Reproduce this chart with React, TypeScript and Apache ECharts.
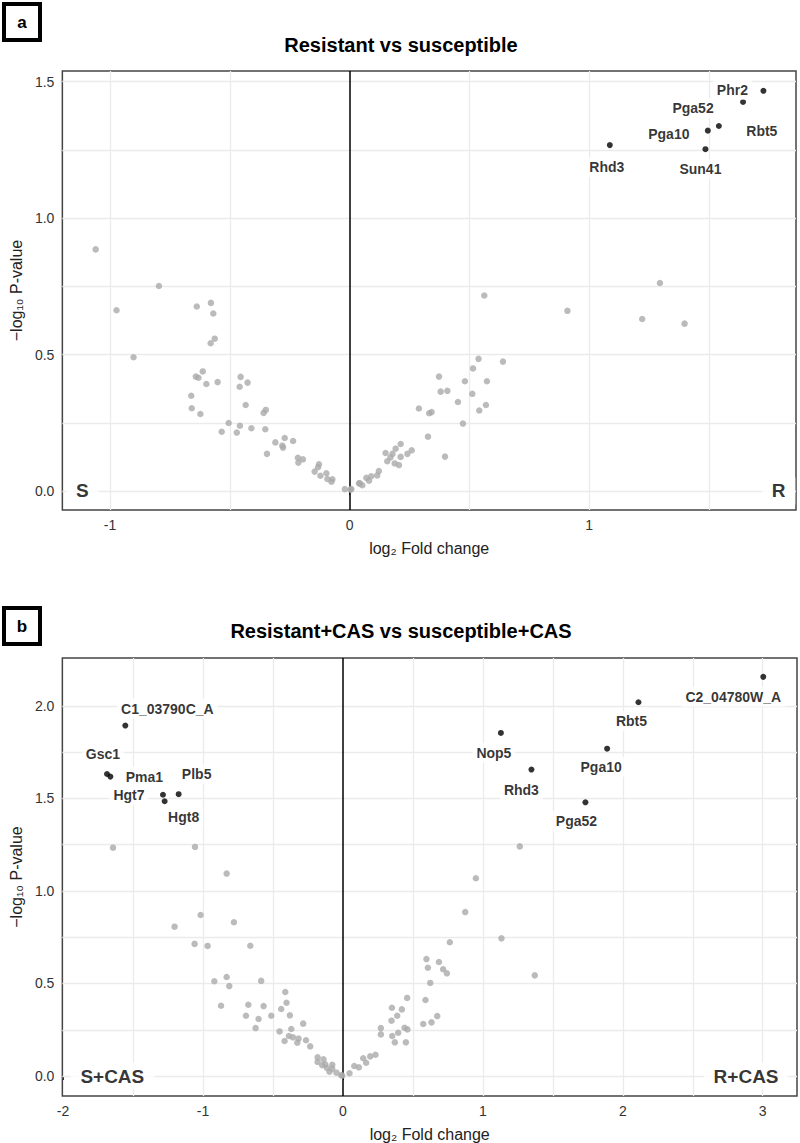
import React, { useEffect, useRef } from "react";
import * as echarts from "echarts";

const FONT = "'Liberation Sans', Arial, Helvetica, sans-serif";

// ---------- Panel a: Resistant vs susceptible ----------
const aTitle = "Resistant vs susceptible";
const aXTicks = [-1, 0, 1];
const aYTicks = [0, 0.5, 1, 1.5];
const aXGrid = [-1, -0.5, 0.5, 1, 1.5];
const aYGrid = [0, 0.25, 0.5, 0.75, 1, 1.25, 1.5];
const aGray: number[][] = [
  [-1.06, 0.885], [-0.796, 0.751], [-0.973, 0.662], [-0.638, 0.676], [-0.579, 0.689], [-0.569, 0.65],
  [-0.563, 0.558], [-0.58, 0.541], [-0.902, 0.49], [-0.613, 0.438], [-0.642, 0.419], [-0.631, 0.415],
  [-0.598, 0.392], [-0.551, 0.399], [-0.455, 0.418], [-0.426, 0.397], [-0.459, 0.382], [-0.661, 0.349],
  [-0.659, 0.303], [-0.623, 0.282], [-0.434, 0.315], [-0.35, 0.297], [-0.359, 0.286], [-0.505, 0.249],
  [-0.534, 0.217], [-0.471, 0.214], [-0.458, 0.239], [-0.41, 0.23], [-0.352, 0.226], [-0.345, 0.136],
  [-0.31, 0.178], [-0.271, 0.194], [-0.281, 0.166], [-0.278, 0.159], [-0.236, 0.183], [-0.216, 0.122],
  [-0.195, 0.116], [-0.214, 0.104], [-0.128, 0.098], [-0.132, 0.087], [-0.146, 0.071], [-0.122, 0.056],
  [-0.097, 0.065], [-0.093, 0.044], [-0.072, 0.043], [-0.076, 0.034], [-0.02, 0.007], [0.004, 0.005],
  [0.039, 0.028],
  [1.295, 0.762], [0.562, 0.716], [0.909, 0.66], [1.221, 0.63], [1.398, 0.613], [0.538, 0.484],
  [0.64, 0.474], [0.515, 0.449], [0.373, 0.419], [0.481, 0.402], [0.573, 0.402], [0.38, 0.364],
  [0.408, 0.367], [0.512, 0.356], [0.452, 0.326], [0.569, 0.315], [0.541, 0.295], [0.289, 0.302],
  [0.332, 0.285], [0.342, 0.289], [0.473, 0.247], [0.327, 0.199], [0.398, 0.126], [0.213, 0.172],
  [0.259, 0.149], [0.241, 0.136], [0.192, 0.155], [0.15, 0.139], [0.179, 0.136], [0.213, 0.125],
  [0.17, 0.123], [0.157, 0.109], [0.188, 0.101], [0.206, 0.095], [0.122, 0.073], [0.115, 0.057],
  [0.09, 0.054], [0.07, 0.048], [0.081, 0.038], [0.043, 0.028], [0.053, 0.021], [0.007, 0.007],
];
const aGenes = ["Phr2", "Pga52", "Rbt5", "Pga10", "Sun41", "Rhd3"];
const aGeneX = [1.727, 1.642, 1.541, 1.495, 1.485, 1.086];
const aGeneY = [1.466, 1.425, 1.337, 1.32, 1.252, 1.267];
const aLabelOffsets = [[-31, -1], [-50, 6], [43, 5], [-39, 3], [-5, 20], [-3, 22]];
const aCorners = ["S", "R"];
const aCornerX = [-1.116, 1.79];

// ---------- Panel b: Resistant+CAS vs susceptible+CAS ----------
const bTitle = "Resistant+CAS vs susceptible+CAS";
const bXTicks = [-2, -1, 0, 1, 2, 3];
const bYTicks = [0, 0.5, 1, 1.5, 2];
const bXGrid = [-1.5, -1, -0.5, 0.5, 1, 1.5, 2, 2.5, 3];
const bYGrid = [0, 0.25, 0.5, 0.75, 1, 1.25, 1.5, 1.75, 2];
const bGray: number[][] = [
  [-1.643, 1.234], [-1.057, 1.238], [-0.831, 1.094], [-1.017, 0.87], [-0.779, 0.831], [-1.203, 0.807],
  [-1.06, 0.714], [-0.967, 0.703], [-0.662, 0.704], [-0.919, 0.512], [-0.831, 0.535], [-0.812, 0.486],
  [-0.584, 0.514], [-0.412, 0.454], [-0.403, 0.396], [-0.441, 0.362], [-0.871, 0.38], [-0.676, 0.385],
  [-0.567, 0.378], [-0.693, 0.326], [-0.603, 0.308], [-0.512, 0.326], [-0.379, 0.328], [-0.624, 0.259],
  [-0.453, 0.241], [-0.369, 0.254], [-0.284, 0.283], [-0.417, 0.189], [-0.386, 0.216], [-0.357, 0.209],
  [-0.326, 0.18], [-0.317, 0.202], [-0.264, 0.193], [-0.234, 0.16], [-0.181, 0.101], [-0.181, 0.076],
  [-0.139, 0.09], [-0.126, 0.063], [-0.148, 0.058], [-0.076, 0.061], [-0.076, 0.039], [-0.114, 0.043],
  [-0.046, 0.018], [-0.012, 0.004], [-0.096, 0.023],
  [1.264, 1.241], [0.95, 1.069], [0.874, 0.886], [1.133, 0.744], [0.764, 0.723], [1.371, 0.544],
  [0.597, 0.632], [0.686, 0.616], [0.607, 0.585], [0.716, 0.577], [0.743, 0.555], [0.624, 0.503],
  [0.459, 0.422], [0.59, 0.411], [0.35, 0.369], [0.421, 0.36], [0.388, 0.326], [0.347, 0.299],
  [0.674, 0.324], [0.633, 0.29], [0.574, 0.281], [0.271, 0.259], [0.271, 0.225], [0.44, 0.261],
  [0.461, 0.252], [0.395, 0.234], [0.352, 0.216], [0.371, 0.182], [0.45, 0.182], [0.233, 0.115],
  [0.195, 0.106], [0.145, 0.096], [0.166, 0.072], [0.081, 0.054], [0.114, 0.047], [0.047, 0.015],
  [-0.005, 0.002],
];
const bGenes = ["C1_03790C_A", "Gsc1", "Pma1", "Plb5", "Hgt7", "Hgt8", "C2_04780W_A", "Rbt5", "Nop5", "Pga10", "Rhd3", "Pga52"];
const bGeneX = [-1.555, -1.686, -1.662, -1.174, -1.286, -1.274, 3.004, 2.112, 1.129, 1.888, 1.347, 1.733];
const bGeneY = [1.894, 1.632, 1.618, 1.523, 1.52, 1.485, 2.157, 2.02, 1.854, 1.769, 1.656, 1.479];
const bLabelOffsets = [[42, -17], [-4, -20], [34, 0], [18, -20], [-34, 0], [19, 16], [-30, 20], [-7, 19], [-7, 20], [-6, 18], [-10, 20], [-9, 19]];
const bCorners = ["S+CAS", "R+CAS"];
const bCornerX = [-1.648, 2.881];

const GRID_COLOR = "#ebebeb";
const TEXT_COLOR = "#333";

function panelSeries(
  idx: number,
  xGrid: number[],
  yGrid: number[],
  gray: number[][],
  genes: string[],
  gx: number[],
  gy: number[],
  offs: number[][],
  corners: string[],
  cornerX: number[]
): any[] {
  const gridLines = [
    ...xGrid.map((v) => ({ xAxis: v })),
    ...yGrid.map((v) => ({ yAxis: v })),
  ];
  return [
    {
      type: "line",
      xAxisIndex: idx,
      yAxisIndex: idx,
      data: [],
      z: 1,
      silent: true,
      markLine: {
        z: 1,
        silent: true,
        symbol: ["none", "none"],
        label: { show: false },
        lineStyle: { color: GRID_COLOR, width: 1.3, type: "solid" },
        data: gridLines,
        animation: false,
      },
    },
    {
      type: "line",
      xAxisIndex: idx,
      yAxisIndex: idx,
      data: [],
      z: 2,
      silent: true,
      markLine: {
        z: 2,
        silent: true,
        symbol: ["none", "none"],
        label: { show: false },
        lineStyle: { color: "#000", width: 1.5, type: "solid" },
        data: [{ xAxis: 0 }],
        animation: false,
      },
    },
    {
      type: "scatter",
      xAxisIndex: idx,
      yAxisIndex: idx,
      z: 3,
      symbolSize: 6.5,
      itemStyle: { color: "#aaaaaa" },
      data: gray,
    },
    {
      type: "scatter",
      xAxisIndex: idx,
      yAxisIndex: idx,
      z: 4,
      symbolSize: 6,
      itemStyle: { color: "#000" },
      label: {
        show: true,
        position: "inside",
        formatter: "{b}",
        fontFamily: FONT,
        fontSize: 14,
        fontWeight: "bold",
        color: "#000",
        backgroundColor: "#fff",
        padding: [3, 4],
      },
      data: genes.map((g, i) => ({
        name: g,
        value: [gx[i], gy[i]],
        label: { offset: offs[i] },
      })),
    },
    {
      type: "scatter",
      xAxisIndex: idx,
      yAxisIndex: idx,
      z: 4,
      symbolSize: 0,
      label: {
        show: true,
        position: "inside",
        formatter: "{b}",
        fontFamily: FONT,
        fontSize: 19,
        fontWeight: "bold",
        color: "#000",
        backgroundColor: "#fff",
        padding: [4, 10],
      },
      data: corners.map((c, i) => ({ name: c, value: [cornerX[i], 0] })),
    },
  ];
}

function xAxisOf(idx: number, min: number, max: number, ticks: number[]) {
  return {
    type: "value",
    gridIndex: idx,
    min,
    max,
    axisLine: { show: false },
    splitLine: { show: false },
    axisTick: { show: true, customValues: ticks, length: 4, lineStyle: { color: "#333", width: 1 } },
    axisLabel: {
      customValues: ticks,
      fontFamily: FONT,
      fontSize: 14,
      color: TEXT_COLOR,
      margin: 8,
      formatter: (v: number) => String(v),
    },
    name: "log\u2082 Fold change",
    nameLocation: "middle",
    nameGap: 30,
    nameTextStyle: { fontFamily: FONT, fontSize: 16, color: "#222" },
  };
}

function yAxisOf(idx: number, min: number, max: number, ticks: number[]) {
  return {
    type: "value",
    gridIndex: idx,
    min,
    max,
    axisLine: { show: false },
    splitLine: { show: false },
    axisTick: { show: true, customValues: ticks, length: 4, lineStyle: { color: "#333", width: 1 } },
    axisLabel: {
      customValues: ticks,
      fontFamily: FONT,
      fontSize: 14,
      color: TEXT_COLOR,
      margin: 8,
      formatter: (v: number) => v.toFixed(1),
    },
    name: "\u2212log\u2081\u2080 P-value",
    nameLocation: "middle",
    nameGap: 38,
    nameRotate: 90,
    nameTextStyle: { fontFamily: FONT, fontSize: 16, color: "#222" },
  };
}

function panelTag(letter: string, top: number) {
  return {
    type: "group",
    children: [
      {
        type: "rect",
        shape: { x: 4, y: top, width: 36, height: 36 },
        style: { fill: "#fff", stroke: "#000", lineWidth: 4 },
      },
      {
        type: "text",
        x: 22,
        y: top + 18,
        style: {
          text: letter,
          fontFamily: FONT,
          fontSize: 17,
          fontWeight: "bold",
          fill: "#000",
          align: "center",
          verticalAlign: "middle",
        },
      },
    ],
  };
}

function titleText(text: string, y: number) {
  return {
    type: "text",
    x: 401,
    y,
    style: {
      text,
      fontFamily: FONT,
      fontSize: 20,
      fontWeight: "bold",
      fill: "#000",
      align: "center",
      verticalAlign: "middle",
    },
  };
}

export default function App() {
  const ref = useRef<HTMLDivElement>(null);
  useEffect(() => {
    if (!ref.current) return;
    const chart = echarts.init(ref.current, null, { renderer: "svg" });
    const option: any = {
      animation: false,
      backgroundColor: "#fff",
      textStyle: { fontFamily: FONT },
      grid: [
        { left: 62, top: 71, width: 734, height: 439, show: true, borderColor: "#444", borderWidth: 1.5, backgroundColor: "transparent" },
        { left: 62, top: 658, width: 735, height: 438, show: true, borderColor: "#444", borderWidth: 1.5, backgroundColor: "transparent" },
      ],
      xAxis: [xAxisOf(0, -1.199, 1.863, aXTicks), xAxisOf(1, -2.005, 3.245, bXTicks)],
      yAxis: [yAxisOf(0, -0.0696, 1.5385, aYTicks), yAxisOf(1, -0.108, 2.259, bYTicks)],
      series: [
        ...panelSeries(0, aXGrid, aYGrid, aGray, aGenes, aGeneX, aGeneY, aLabelOffsets, aCorners, aCornerX),
        ...panelSeries(1, bXGrid, bYGrid, bGray, bGenes, bGeneX, bGeneY, bLabelOffsets, bCorners, bCornerX),
      ],
      graphic: [
        panelTag("a", 4),
        panelTag("b", 608),
        titleText(aTitle, 45),
        titleText(bTitle, 631),
      ],
    };
    chart.setOption(option);
    return () => chart.dispose();
  }, []);
  return (
    <div
      ref={ref}
      style={{ position: "absolute", left: 0, top: 0, width: 800, height: 1143 }}
    />
  );
}
